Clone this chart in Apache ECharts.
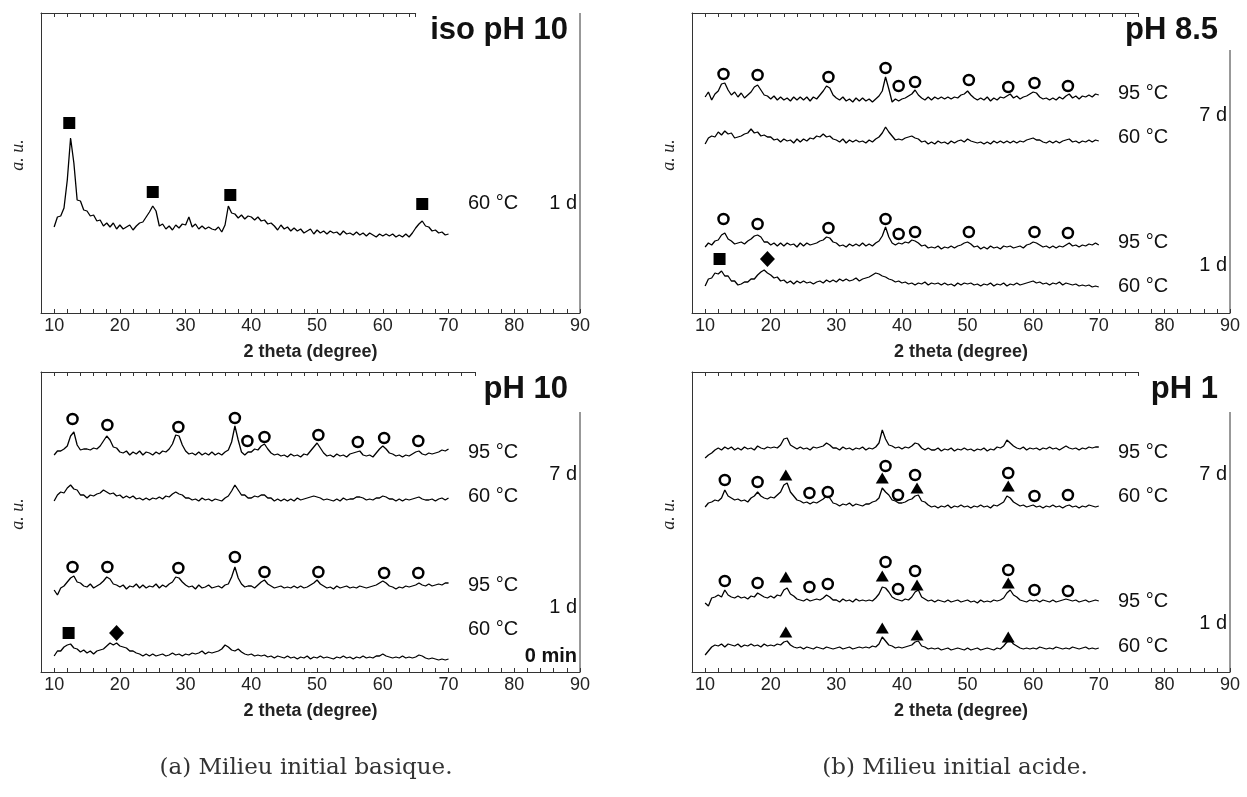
<!DOCTYPE html>
<html><head><meta charset="utf-8">
<script src="https://cdn.jsdelivr.net/npm/echarts@6/dist/echarts.min.js"></script>
<style>html,body{margin:0;padding:0;background:#fff}#c{width:1247px;height:797px}</style>
</head><body><div id="c"></div>
<script>
// 2θ sampling positions (degree)
const twoTheta = [
10,10.5,11,11.5,12,12.5,13,13.5,14,14.5,
15,15.5,16,16.5,17,17.5,18,18.5,19,19.5,
20,20.5,21,21.5,22,22.5,23,23.5,24,24.5,
25,25.5,26,26.5,27,27.5,28,28.5,29,29.5,
30,30.5,31,31.5,32,32.5,33,33.5,34,34.5,
35,35.5,36,36.5,37,37.5,38,38.5,39,39.5,
40,40.5,41,41.5,42,42.5,43,43.5,44,44.5,
45,45.5,46,46.5,47,47.5,48,48.5,49,49.5,
50,50.5,51,51.5,52,52.5,53,53.5,54,54.5,
55,55.5,56,56.5,57,57.5,58,58.5,59,59.5,
60,60.5,61,61.5,62,62.5,63,63.5,64,64.5,
65,65.5,66,66.5,67,67.5,68,68.5,69,69.5,
70];
const xTickLabels = [10,20,30,40,50,60,70,80,90];

// (a) iso pH 10 — 60 °C, 1 d
const isoPH10_60C_1d = [
86,96,97,105,133,175,150,113,112,103,
102,97,98,92,93,87,90,86,90,84,
88,84,86,88,83,87,90,91,96,101,
107,102,87,89,84,87,83,88,85,89,
88,96,86,89,84,87,84,86,84,83,
86,81,88,107,100,99,95,98,94,97,
96,93,96,92,93,89,90,87,83,88,
84,86,82,85,82,84,80,82,84,79,
83,80,82,79,82,80,81,78,82,79,
80,78,81,78,80,77,80,78,76,79,
77,79,77,79,76,78,76,79,76,80,
85,89,92,87,86,82,83,80,81,78,
79];

// (b) pH 8.5
const pH85_95C_7d = [
216,221,213,219,222,229,230,223,218,221,
216,220,215,218,221,226,228,223,218,217,
214,217,213,216,213,215,212,216,213,216,
213,216,212,216,214,218,222,227,225,218,
215,213,216,212,214,211,215,212,215,212,
214,211,214,217,222,236,224,211,214,212,
214,215,217,219,223,218,215,213,216,213,
216,214,216,214,216,214,216,215,218,219,
222,218,215,213,215,213,216,212,215,213,
216,215,217,219,215,217,214,216,217,219,
221,220,216,214,215,213,215,213,216,214,
217,219,215,217,214,217,216,218,216,219,
218];
const pH85_60C_7d = [
169,175,177,176,181,178,182,179,180,175,
176,177,179,180,184,180,181,177,178,176,
176,173,174,171,174,172,173,170,174,171,
174,172,175,174,177,176,179,176,177,174,
173,171,174,170,173,171,173,171,172,170,
173,171,174,176,180,186,181,177,173,174,
173,175,176,177,175,174,171,172,169,171,
169,172,170,171,169,172,170,172,173,171,
174,172,171,170,171,169,171,169,172,170,
172,170,172,170,172,170,172,171,173,174,
175,173,173,171,170,172,170,172,170,172,
173,174,171,172,170,172,171,173,171,173,
172];
const pH85_95C_1d = [
66,70,68,72,73,78,80,74,72,69,
70,71,69,72,74,77,78,76,71,71,
68,70,67,70,67,70,68,69,66,70,
67,70,68,69,70,72,73,76,75,71,
70,67,68,66,69,67,69,67,70,67,
69,67,70,72,77,86,76,70,68,70,
69,71,70,73,72,70,67,68,65,66,
65,67,64,66,65,67,65,67,68,70,
71,69,66,67,64,66,64,67,65,66,
64,67,66,67,65,66,67,65,68,69,
71,70,68,66,67,65,67,65,67,66,
68,70,67,68,66,68,67,69,68,70,
68];
const pH85_60C_1d = [
27,34,35,40,39,42,37,37,32,32,
28,29,31,31,34,34,38,41,43,40,
38,35,36,32,33,30,32,29,32,30,
32,30,31,29,31,32,30,33,31,33,
31,34,32,34,32,33,35,32,34,35,
36,38,40,39,37,36,34,33,31,32,
30,31,29,30,28,30,29,31,28,30,
29,30,28,30,28,29,27,30,28,30,
29,30,28,29,27,29,28,30,27,29,
28,30,27,29,28,30,28,29,30,31,
32,30,31,29,30,28,30,29,31,28,
30,29,28,29,27,28,27,28,26,27,
26];

// (a) pH 10
const pH10_95C_7d = [
217,221,221,223,226,236,240,227,222,223,
223,222,224,223,226,231,236,232,225,224,
220,219,221,217,220,218,221,217,220,219,
217,220,218,221,220,223,228,237,236,227,
221,218,219,217,220,217,219,217,220,217,
219,217,220,222,230,246,232,220,217,220,
220,223,222,226,228,223,219,217,218,216,
217,215,218,216,217,215,218,217,221,225,
229,224,219,216,217,215,218,216,217,215,
218,219,220,221,217,216,217,215,219,223,
226,223,219,218,216,217,215,217,216,218,
220,221,218,217,219,218,219,220,222,221,
223];
const pH10_60C_7d = [
171,177,180,179,184,187,183,182,177,177,
174,177,176,178,179,182,180,178,179,176,
177,174,176,174,176,173,174,172,174,172,
174,173,175,173,176,175,178,180,178,177,
174,174,172,173,171,174,172,173,171,173,
172,171,174,176,181,187,182,177,177,174,
174,176,175,177,177,174,174,171,173,171,
173,171,173,171,174,172,173,174,175,176,
175,174,172,173,172,171,173,171,174,172,
173,173,175,175,174,172,173,172,174,174,
176,175,173,173,171,173,171,173,172,173,
174,175,173,172,172,173,171,173,174,172,
174];
const pH10_95C_1d = [
82,77,84,86,90,94,96,90,89,86,
85,88,84,86,88,91,95,93,88,87,
85,87,83,86,85,88,84,87,84,86,
85,88,84,87,85,88,90,95,94,90,
87,85,86,83,87,84,85,87,84,85,
86,84,87,88,95,105,94,88,85,86,
86,84,87,90,92,88,86,84,85,86,
84,85,84,86,84,86,84,85,87,89,
92,88,86,84,85,83,86,84,85,86,
84,85,84,86,85,84,85,86,87,89,
91,89,86,85,83,85,84,86,85,86,
87,89,87,86,88,86,87,88,87,89,
89];
const pH10_60C_0min = [
16,21,21,25,27,28,24,23,20,22,
19,21,18,21,22,23,26,29,27,29,
26,25,24,21,21,19,18,16,18,16,
18,16,17,18,16,17,19,17,18,16,
18,17,19,18,19,21,18,20,19,20,
21,23,27,25,22,21,23,20,18,17,
18,16,17,16,17,15,16,14,16,15,
14,16,14,15,13,15,14,16,13,15,
14,16,14,15,14,13,15,14,16,14,
15,13,15,14,16,14,15,14,16,16,
18,16,15,14,15,14,16,14,15,14,
15,17,16,14,13,14,13,12,13,12,
13];

// (b) pH 1
const pH1_95C_7d = [
214,217,219,222,224,222,225,223,225,222,
224,222,225,223,224,222,226,224,223,225,
224,225,224,227,233,234,227,225,223,225,
223,224,222,225,224,225,226,229,227,224,
224,222,225,223,224,222,224,223,225,222,
224,223,225,229,242,233,227,226,224,225,
223,225,224,226,229,228,224,222,224,222,
222,224,221,223,222,224,221,223,222,224,
222,223,221,223,222,224,221,223,222,225,
224,226,232,229,226,224,223,225,222,224,
223,224,222,224,223,225,223,224,222,224,
226,224,223,224,222,224,223,225,224,225,
225];
const pH1_60C_7d = [
165,169,170,172,171,174,182,176,174,172,
173,171,172,170,174,176,180,176,174,173,
175,174,177,180,187,189,180,176,172,171,
169,170,168,170,169,171,173,176,174,169,
168,166,168,167,169,166,168,167,166,168,
168,170,171,174,184,180,177,172,171,169,
169,170,172,173,176,177,171,170,167,165,
166,164,166,165,167,164,166,165,167,165,
166,164,166,165,167,165,166,164,167,166,
168,170,176,174,170,168,166,167,165,166,
167,165,166,164,166,165,167,165,166,164,
166,167,165,166,164,166,165,167,166,165,
166];
const pH1_95C_1d = [
69,66,74,75,77,75,82,77,75,74,
76,74,75,73,76,75,79,77,75,74,
76,74,77,76,82,84,78,76,73,72,
71,73,71,72,73,72,74,77,75,72,
72,70,73,71,72,70,73,71,72,71,
72,71,74,78,85,84,80,75,73,72,
71,73,72,75,80,82,75,73,71,72,
70,72,71,70,72,70,71,72,70,71,
72,70,71,69,72,70,71,70,72,71,
72,74,79,82,77,75,72,71,70,72,
71,72,70,72,71,70,72,70,71,72,
73,72,71,72,70,71,72,70,71,72,
71];
const pH1_60C_1d = [
17,21,25,27,26,28,25,28,27,26,
28,25,27,26,28,26,27,25,28,26,
27,26,28,27,30,31,27,25,24,25,
23,25,24,23,25,24,23,25,24,23,
24,25,23,24,25,23,24,25,24,25,
24,26,25,28,35,31,27,26,24,25,
24,25,26,27,30,31,26,25,23,24,
23,24,22,23,24,22,23,24,23,22,
24,22,23,24,22,23,24,23,22,24,
23,26,30,32,28,26,24,23,24,23,
24,23,25,24,23,24,23,25,24,23,
24,23,25,24,23,24,25,23,24,23,
24];

// Phase markers [2θ, height]
const iso_squares = [[12.3,190],[25,121],[36.8,118],[66,109]];
const pH85_circles_7d = [[12.8,239],[18,238],[28.8,236],[37.5,245],[39.5,227],[42,231],[50.2,233],[56.2,226],[60.2,230],[65.3,227]];
const pH85_circles_1d = [[12.8,94],[18,89],[28.8,85],[37.5,94],[39.5,79],[42,81],[50.2,81],[60.2,81],[65.3,80]];
const pH85_squares = [[12.2,54]];
const pH85_diamonds = [[19.5,54]];
const pH10_circles_7d = [[12.8,253],[18.1,247],[28.9,245],[37.5,254],[39.4,231],[42,235],[50.2,237],[56.2,230],[60.2,234],[65.4,231]];
const pH10_circles_1d = [[12.8,105],[18.1,105],[28.9,104],[37.5,115],[42,100],[50.2,100],[60.2,99],[65.4,99]];
const pH10_squares = [[12.2,39]];
const pH10_diamonds = [[19.5,39]];
const pH1_circles_7d = [[13,192],[18,190],[25.9,179],[28.7,180],[37.5,206],[39.4,177],[42,197],[56.2,199],[60.2,176],[65.3,177]];
const pH1_triangles_7d = [[22.3,197],[37,194],[42.3,184],[56.2,186]];
const pH1_circles_1d = [[13,91],[18,89],[25.9,85],[28.7,88],[37.5,110],[39.4,83],[42,101],[56.2,102],[60.2,82],[65.3,81]];
const pH1_triangles_1d = [[22.3,95],[37,96],[42.3,87],[56.2,89]];
const pH1_triangles_60C_1d = [[22.3,40],[37,44],[42.3,37],[56.2,35]];

const titles = ['iso pH 10','pH 8.5','pH 10','pH 1'];
const xName = '2 theta (degree)';
const yName = 'a. u.';

// ---------- layout ----------
const panels = [
  {left:41,  top:13,  width:539, height:300, topMax:65, rightTop:13},
  {left:692, top:13,  width:538, height:300, topMax:76, rightTop:50},
  {left:41,  top:372, width:539, height:300, topMax:74, rightTop:412},
  {left:692, top:372, width:538, height:300, topMax:76, rightTop:412}
];
const AX = '#333', INK = '#000';
const SANS = '"Liberation Sans", Arial, sans-serif';

const grid = [], xAxis = [], yAxis = [], series = [], graphic = [];
panels.forEach((p, i) => {
  grid.push({left:p.left, top:p.top, width:p.width, height:p.height});
  xAxis.push({gridIndex:i, type:'value', min:8, max:90, interval:2,
    axisLine:{show:true, onZero:false, lineStyle:{color:AX, width:1}},
    axisTick:{show:true, inside:true, length:4, lineStyle:{color:AX}},
    axisLabel:{formatter:v => xTickLabels.indexOf(v) >= 0 ? String(v) : '', fontSize:18, color:'#222', margin:4, fontFamily:SANS},
    splitLine:{show:false},
    name:xName, nameLocation:'middle', nameGap:30,
    nameTextStyle:{fontWeight:'bold', fontSize:18, fontFamily:SANS, color:'#222'}});
  yAxis.push({gridIndex:i, type:'value', min:0, max:300,
    axisLine:{show:true, onZero:false, lineStyle:{color:AX, width:1}},
    axisTick:{show:false}, axisLabel:{show:false}, splitLine:{show:false}});
  // y-axis name "a. u." (rotated)
  graphic.push({type:'text', x:p.left - 23, y:p.top + 142, rotation:Math.PI/2,
    style:{text:yName, font:'italic 18px "Liberation Serif", serif', fill:'#222', align:'center', textAlign:'center', verticalAlign:'middle', textVerticalAlign:'middle'}});
});
panels.forEach((p, i) => {
  const w = p.width * (p.topMax - 8) / 82;
  grid.push({left:p.left, top:p.top, width:w, height:p.height});
  xAxis.push({gridIndex:4+i, type:'value', position:'top', min:8, max:p.topMax, interval:2,
    axisLine:{show:true, onZero:false, lineStyle:{color:AX, width:1}},
    axisTick:{show:true, inside:true, length:4, lineStyle:{color:AX}},
    axisLabel:{show:false}, splitLine:{show:false}});
  yAxis.push({gridIndex:4+i, type:'value', min:0, max:1, show:false});
  // right frame edge
  graphic.push({type:'line', shape:{x1:p.left+p.width, y1:p.rightTop, x2:p.left+p.width, y2:p.top+p.height},
    style:{stroke:AX, lineWidth:1}});
  // panel title
  graphic.push({type:'text', x:p.left+p.width-12, y:p.top+17,
    style:{text:titles[i], font:'bold 31px ' + SANS, fill:'#111', align:'right', verticalAlign:'middle', textAlign:'right', textVerticalAlign:'middle'}});
});

function trace(i, arr) {
  series.push({type:'line', xAxisIndex:i, yAxisIndex:i, data:twoTheta.map((t,k)=>[t, arr[k]]),
    symbol:'none', showSymbol:false, lineStyle:{color:INK, width:1.3, opacity:1}, silent:true});
}
function marks(i, arr, kind) {
  const s = {type:'scatter', xAxisIndex:i, yAxisIndex:i, data:arr, silent:true, z:5};
  if (kind === 'circle') { s.symbol='circle'; s.symbolSize=10; s.itemStyle={color:'#fff', borderColor:INK, borderWidth:2.5, opacity:1}; }
  if (kind === 'square') { s.symbol='rect'; s.symbolSize=12; s.itemStyle={color:INK, opacity:1}; }
  if (kind === 'diamond') { s.symbol='diamond'; s.symbolSize=[15,16]; s.itemStyle={color:INK, opacity:1}; }
  if (kind === 'triangle') { s.symbol='triangle'; s.symbolSize=[13,11]; s.itemStyle={color:INK, opacity:1}; }
  series.push(s);
}
trace(0, isoPH10_60C_1d); marks(0, iso_squares, 'square');
trace(1, pH85_95C_7d); trace(1, pH85_60C_7d); trace(1, pH85_95C_1d); trace(1, pH85_60C_1d);
marks(1, pH85_circles_7d, 'circle'); marks(1, pH85_circles_1d, 'circle');
marks(1, pH85_squares, 'square'); marks(1, pH85_diamonds, 'diamond');
trace(2, pH10_95C_7d); trace(2, pH10_60C_7d); trace(2, pH10_95C_1d); trace(2, pH10_60C_0min);
marks(2, pH10_circles_7d, 'circle'); marks(2, pH10_circles_1d, 'circle');
marks(2, pH10_squares, 'square'); marks(2, pH10_diamonds, 'diamond');
trace(3, pH1_95C_7d); trace(3, pH1_60C_7d); trace(3, pH1_95C_1d); trace(3, pH1_60C_1d);
marks(3, pH1_circles_7d, 'circle'); marks(3, pH1_circles_1d, 'circle');
marks(3, pH1_triangles_7d, 'triangle'); marks(3, pH1_triangles_1d, 'triangle'); marks(3, pH1_triangles_60C_1d, 'triangle');

// annotation texts: [panel, text, y, kind]
const annotations = [
  [0,'60 °C',203,'t'],[0,'1 d',203,'d'],
  [1,'95 °C',93,'t'],[1,'7 d',115,'d'],[1,'60 °C',137,'t'],[1,'95 °C',242,'t'],[1,'1 d',265,'d'],[1,'60 °C',286,'t'],
  [2,'95 °C',452,'t'],[2,'7 d',474,'d'],[2,'60 °C',496,'t'],[2,'95 °C',585,'t'],[2,'1 d',607,'d'],[2,'60 °C',629,'t'],[2,'0 min',656,'b'],
  [3,'95 °C',452,'t'],[3,'7 d',474,'d'],[3,'60 °C',496,'t'],[3,'95 °C',601,'t'],[3,'1 d',623,'d'],[3,'60 °C',646,'t']
];
annotations.forEach(([pi, txt, y, kind]) => {
  const p = panels[pi], R = p.left + p.width;
  const left = kind === 't';
  graphic.push({type:'text', x: left ? R - 112 : R - 3, y:y,
    style:{text:txt, font:(kind==='b' ? 'bold ' : '') + '20px ' + SANS, fill:'#111',
      align: left ? 'left' : 'right', textAlign: left ? 'left' : 'right', verticalAlign:'middle', textVerticalAlign:'middle'}});
});
// captions
[['(a) Milieu initial basique.', 306], ['(b) Milieu initial acide.', 955]].forEach(([t, x]) => {
  graphic.push({type:'text', x:x, y:768, style:{text:t, font:'23px "DejaVu Serif", serif', fill:'#333',
    align:'center', textAlign:'center', verticalAlign:'middle', textVerticalAlign:'middle'}});
});

const chart = echarts.init(document.getElementById('c'));
chart.setOption({animation:false, backgroundColor:'#fff', grid, xAxis, yAxis, series, graphic});
</script></body></html>
